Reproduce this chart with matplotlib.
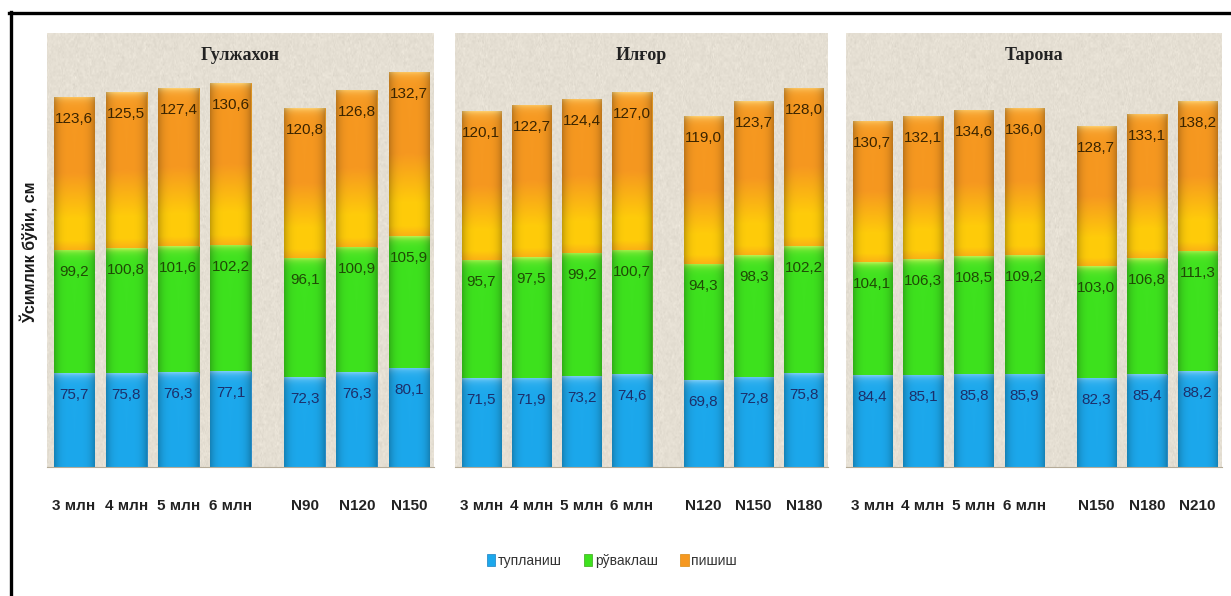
import numpy as np
import matplotlib
matplotlib.use('Agg')
import matplotlib.pyplot as plt
from matplotlib.lines import Line2D
from matplotlib.patches import Patch

# Сорт номлари ва вариантлар
sorts = ['Гулжахон', 'Илғор', 'Тарона']
ticks_gul = ['3 млн', '4 млн', '5 млн', '6 млн', 'N90', 'N120', 'N150']
ticks_ilg = ['3 млн', '4 млн', '5 млн', '6 млн', 'N120', 'N150', 'N180']
ticks_tar = ['3 млн', '4 млн', '5 млн', '6 млн', 'N150', 'N180', 'N210']

# ўсимлик бўйи, см (туплаш, рўваклаш, пишиш)
tup_gul = [75.7, 75.8, 76.3, 77.1, 72.3, 76.3, 80.1]
ruv_gul = [99.2, 100.8, 101.6, 102.2, 96.1, 100.9, 105.9]
pish_gul = [123.6, 125.5, 127.4, 130.6, 120.8, 126.8, 132.7]

tup_ilg = [71.5, 71.9, 73.2, 74.6, 69.8, 72.8, 75.8]
ruv_ilg = [95.7, 97.5, 99.2, 100.7, 94.3, 98.3, 102.2]
pish_ilg = [120.1, 122.7, 124.4, 127.0, 119.0, 123.7, 128.0]

tup_tar = [84.4, 85.1, 85.8, 85.9, 82.3, 85.4, 88.2]
ruv_tar = [104.1, 106.3, 108.5, 109.2, 103.0, 106.8, 111.3]
pish_tar = [130.7, 132.1, 134.6, 136.0, 128.7, 133.1, 138.2]

phases = ['тупланиш', 'рўваклаш', 'пишиш']

SANS = ['Liberation Sans', 'DejaVu Sans']
SERIF = ['Liberation Serif', 'DejaVu Serif']

W, H = 1231, 596
BASE = {
    'blue': (28, 168, 236),
    'green': (62, 226, 30),
    'orange': (246, 152, 32),
}
EDGE = {'blue': '#1a7fc0', 'green': '#3aa818', 'orange': '#d88a10'}
TEXT = {'blue': '#1c2f6a', 'green': '#1f4a05', 'orange': '#3a2400'}


def seg_image(kind, h_px, ny=160, nx=40):
    t = np.linspace(0, h_px, ny)[:, None]
    frac = np.linspace(0, 1, ny)[:, None]
    base = np.array(BASE[kind], float) / 255
    img = np.ones((ny, nx, 3)) * base
    if kind == 'orange':
        yel = np.array([255, 204, 10]) / 255
        k = np.clip((frac - 0.5) / 0.3, 0, 1)
        k = np.where(frac > 0.94, k * (1 - (frac - 0.94) / 0.06 * 0.5), k)
        img = base * (1 - k[..., None]) + yel * k[..., None]
        img = np.repeat(img, nx, axis=1)
        hl = np.array([255, 214, 120]) / 255
    elif kind == 'green':
        hl = np.array([205, 245, 90]) / 255
    else:
        hl = np.array([140, 212, 250]) / 255
    # светлая полоска сверху
    a = np.exp(-t / 4.0)[..., None] * 0.85
    img = img * (1 - a) + hl * a
    # затемнение по краям
    u = np.linspace(-1, 1, nx)[None, :, None]
    img = img * (1 - 0.22 * np.abs(u) ** 4)
    return np.clip(img, 0, 1)


def texture(seed):
    rng = np.random.default_rng(seed)
    small = rng.normal(0, 1, (120, 180))
    big = np.kron(small, np.ones((2, 2)))
    fine = rng.normal(0, 1, big.shape)
    n = 0.35 * big + 0.65 * fine
    base = np.array([229, 223, 211]) / 255
    img = base[None, None, :] + n[..., None] * 0.02
    return np.clip(img, 0, 1)


fig = plt.figure(figsize=(W / 100, H / 100), dpi=100)
fig.patch.set_facecolor('white')

panels = [
    (sorts[0], ticks_gul, tup_gul, ruv_gul, pish_gul, 350, (47, 434)),
    (sorts[1], ticks_ilg, tup_ilg, ruv_ilg, pish_ilg, 350, (455, 828)),
    (sorts[2], ticks_tar, tup_tar, ruv_tar, pish_tar, 400, (846, 1222)),
]
x = np.array([0, 1, 2, 3, 4.42, 5.42, 6.42])
top_px, base_px = 33, 467

for i, (name, labels, tup, ruv, pish, ymax, (l, r)) in enumerate(panels):
    ax = fig.add_axes([l / W, (H - base_px) / H, (r - l) / W, (base_px - top_px) / H])
    ax.imshow(texture(i + 1), extent=(0, 1, 0, 1), transform=ax.transAxes,
              aspect='auto', zorder=0, interpolation='bilinear')
    ppu = (base_px - top_px) / ymax

    bottom = np.zeros(len(x))
    for vals, kind in zip([tup, ruv, pish], ['blue', 'green', 'orange']):
        bars = ax.bar(x, vals, 0.78, bottom=bottom, color=np.array(BASE[kind]) / 255,
                      edgecolor=EDGE[kind], linewidth=0.6, zorder=2)
        for p, v in zip(bars.patches, vals):
            im = ax.imshow(seg_image(kind, p.get_height() * ppu),
                           extent=(p.get_x(), p.get_x() + p.get_width(),
                                   p.get_y(), p.get_y() + p.get_height()),
                           aspect='auto', origin='upper', zorder=2.1,
                           interpolation='bilinear')
            im.set_clip_path(p)
            ax.annotate(f'{v:.1f}'.replace('.', ','),
                        (p.get_x() + p.get_width() / 2, p.get_y() + p.get_height()),
                        xytext=(0, -22), textcoords='offset pixels',
                        ha='center', va='center', fontsize=11,
                        color=TEXT[kind], family=SANS, zorder=3)
        bottom = bottom + np.array(vals)

    ax.set_xlim(-0.52, 6.9)
    ax.set_ylim(0, ymax)
    ax.set_xticks(x)
    ax.set_xticklabels(labels, fontsize=11, fontweight='bold', color='#222222',
                       family=SANS)
    ax.tick_params(axis='x', length=0, pad=23)
    ax.set_yticks([])
    for s in ['top', 'left', 'right']:
        ax.spines[s].set_visible(False)
    ax.spines['bottom'].set_color('#b5ab98')
    ax.spines['bottom'].set_linewidth(0.8)
    ax.text(0.5, 0.949, name, transform=ax.transAxes, ha='center', va='center',
            fontsize=13, fontweight='bold', color='#222222', family=SERIF, zorder=3)

fig.text(29 / W, (H - 252) / H, 'Ўсимлик бўйи, см', rotation=90, ha='center',
         va='center', fontsize=11.5, fontweight='bold', color='#1a1a1a', family=SANS)

# рамка сверху и слева
fig.add_artist(Line2D([9 / W, 1], [1 - 12.5 / H, 1 - 12.5 / H], color='black', lw=2.4))
fig.add_artist(Line2D([10.5 / W, 10.5 / W], [0, 1 - 11.5 / H], color='black', lw=2.4))

handles = [Patch(facecolor=np.array(BASE[k]) / 255, edgecolor=EDGE[k], linewidth=0.5)
           for k in ['blue', 'green', 'orange']]
fig.legend(handles, phases, loc='center', bbox_to_anchor=(612 / W, (H - 561) / H),
           ncol=3, frameon=False, handlelength=0.6, handleheight=0.9,
           handletextpad=0.2, columnspacing=1.6,
           prop={'family': SANS, 'size': 10}, labelcolor='#333333')

fig.savefig('out.png', dpi=100)
